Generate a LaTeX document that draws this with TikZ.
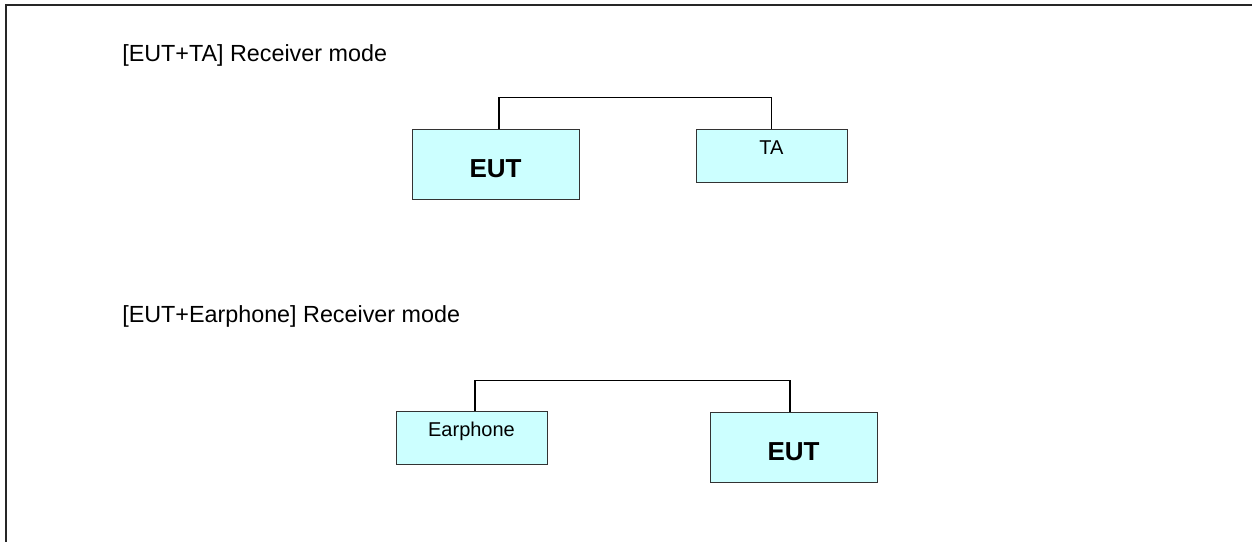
\documentclass[tikz,border=0pt]{standalone}
\usepackage{fontspec}
\setmainfont{Liberation Sans}
\definecolor{boxfill}{HTML}{CCFFFF}
\begin{document}
\begin{tikzpicture}[x=0.75pt, y=-0.75pt,
        title/.style={anchor=base west, inner sep=0pt, font=\fontsize{17.5}{20}\selectfont},
        bigbox/.style={draw=black!80, fill=boxfill, line width=0.75pt, inner sep=0pt, anchor=base,
            minimum width=125.25pt, text height=36pt, text depth=16.5pt, font=\fontsize{19.5}{22}\selectfont\bfseries},
        smallbox/.style={draw=black!80, fill=boxfill, line width=0.75pt, inner sep=0pt, anchor=base,
            minimum width=113.25pt, text height=18.75pt, text depth=21pt, font=\fontsize{15}{18}\selectfont},
        link/.style={draw=black, line width=1.1pt}]
            \useasboundingbox (0,0) rectangle (1252,542);

            % Frame
            \draw[line width=1.5pt, black!85] (6,542) -- (6,5) -- (1252,5);

            % Titles
            \node[title] (titleA) at (122,62) {[EUT+TA] Receiver mode};
            \node[title] (titleB) at (122,322) {[EUT+Earphone] Receiver mode};

            % Boxes
            \node[bigbox] (eutA) at (495.5,177) {EUT};
            \node[smallbox] (ta) at (771.5,154) {TA};
            \node[smallbox] (earphone) at (471.5,436) {Earphone};
            \node[bigbox] (eutB) at (793.5,460) {EUT};

            % Connectors
            \draw[link] ([xshift=2.6pt]eutA.north) -- ++(0,-31) -| (ta.north);
            \draw[link] ([xshift=2.6pt]earphone.north) -- ++(0,-30) -| ([xshift=-2.6pt]eutB.north);
        \end{tikzpicture}
\end{document}
